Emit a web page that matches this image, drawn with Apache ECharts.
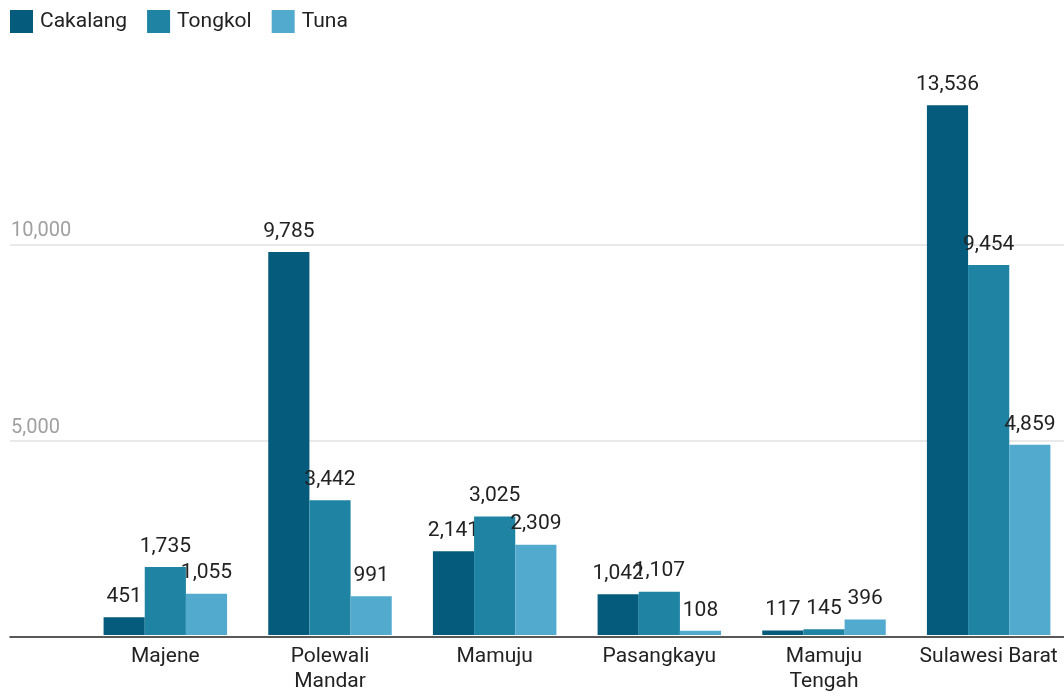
<!DOCTYPE html>
<html>
<head>
<meta charset="utf-8">
<script src="https://cdn.jsdelivr.net/npm/echarts@6/dist/echarts.min.js"></script>
<style>
  html, body { margin: 0; padding: 0; background: #ffffff; overflow: hidden; }
  /* canvas runs a few pixels past the visible page on the right */
  #chart { width: 1071px; height: 694px; }
</style>
</head>
<body>
<div id="chart"></div>
<script>
// Tangkapan ikan per kabupaten, Sulawesi Barat (ton)
const categories = ['Majene', 'Polewali\nMandar', 'Mamuju', 'Pasangkayu', 'Mamuju\nTengah', 'Sulawesi Barat'];
const cakalang = [451, 9785, 2141, 1042, 117, 13536];
const tongkol = [1735, 3442, 3025, 1107, 145, 9454];
const tuna = [1055, 991, 2309, 108, 396, 4859];
const seriesNames = ['Cakalang', 'Tongkol', 'Tuna'];
const seriesColors = ['#045b7c', '#1f84a4', '#52abcf'];
const yTicks = [0, 5000, 10000, 15000];

const FONT = 'Roboto';
const fmt = v => v.toLocaleString('en-US');

const chart = echarts.init(document.getElementById('chart'), null, { renderer: 'canvas' });

const valueAxisBase = {
  type: 'value',
  min: yTicks[0],
  max: yTicks[yTicks.length - 1],
  interval: yTicks[1] - yTicks[0]
};

function barSeries(i, values) {
  return {
    name: seriesNames[i],
    type: 'bar',
    xAxisIndex: 1,
    yAxisIndex: 1,
    z: 2 + i,
    data: values,
    barGap: '0%',
    barCategoryGap: '25%',
    itemStyle: { color: seriesColors[i] },
    label: {
      show: true,
      position: 'top',
      distance: 10,
      fontFamily: FONT,
      fontSize: 21,
      color: '#222222',
      formatter: p => fmt(p.value)
    }
  };
}

chart.setOption({
  animation: false,
  backgroundColor: '#ffffff',
  color: seriesColors,
  textStyle: { fontFamily: FONT },
  legend: {
    left: 10,
    top: 10,
    padding: 0,
    itemWidth: 23,
    itemHeight: 23,
    itemGap: 20,
    icon: 'rect',
    data: seriesNames,
    textStyle: { fontFamily: FONT, fontSize: 21, color: '#222222', padding: [0, 0, 0, 2] }
  },
  grid: [
    // backdrop grid: gridlines, tick labels and baseline across the full width
    { left: 10, right: 0, top: 48, bottom: 57, containLabel: false },
    // bars
    { left: 83, right: 0, top: 48, bottom: 57, containLabel: false }
  ],
  xAxis: [
    {
      gridIndex: 0,
      type: 'value',
      min: 0,
      max: 1,
      z: 10,
      axisLine: { show: true, lineStyle: { color: '#222222', width: 1.5 } },
      axisTick: { show: false },
      axisLabel: { show: false },
      splitLine: { show: false }
    },
    {
      gridIndex: 1,
      type: 'category',
      data: categories,
      axisLine: { show: false },
      axisTick: { show: false },
      axisLabel: {
        fontFamily: FONT,
        fontSize: 21,
        lineHeight: 25,
        color: '#222222',
        margin: 9,
        interval: 0
      }
    }
  ],
  yAxis: [
    Object.assign({}, valueAxisBase, {
      gridIndex: 0,
      axisLine: { show: false },
      axisTick: { show: false },
      axisLabel: {
        inside: true,
        margin: 1,
        verticalAlign: 'bottom',
        padding: [0, 0, 3, 0],
        fontFamily: FONT,
        fontSize: 20,
        color: '#a0a0a0',
        showMinLabel: false,
        showMaxLabel: false,
        formatter: v => fmt(v)
      },
      splitLine: {
        show: true,
        showMinLine: false,
        showMaxLine: false,
        lineStyle: { color: '#e2e2e2', width: 1.5 }
      }
    }),
    Object.assign({}, valueAxisBase, {
      gridIndex: 1,
      show: false,
      splitLine: { show: false }
    })
  ],
  series: [
    barSeries(0, cakalang),
    barSeries(1, tongkol),
    barSeries(2, tuna)
  ]
});
</script>
</body>
</html>
